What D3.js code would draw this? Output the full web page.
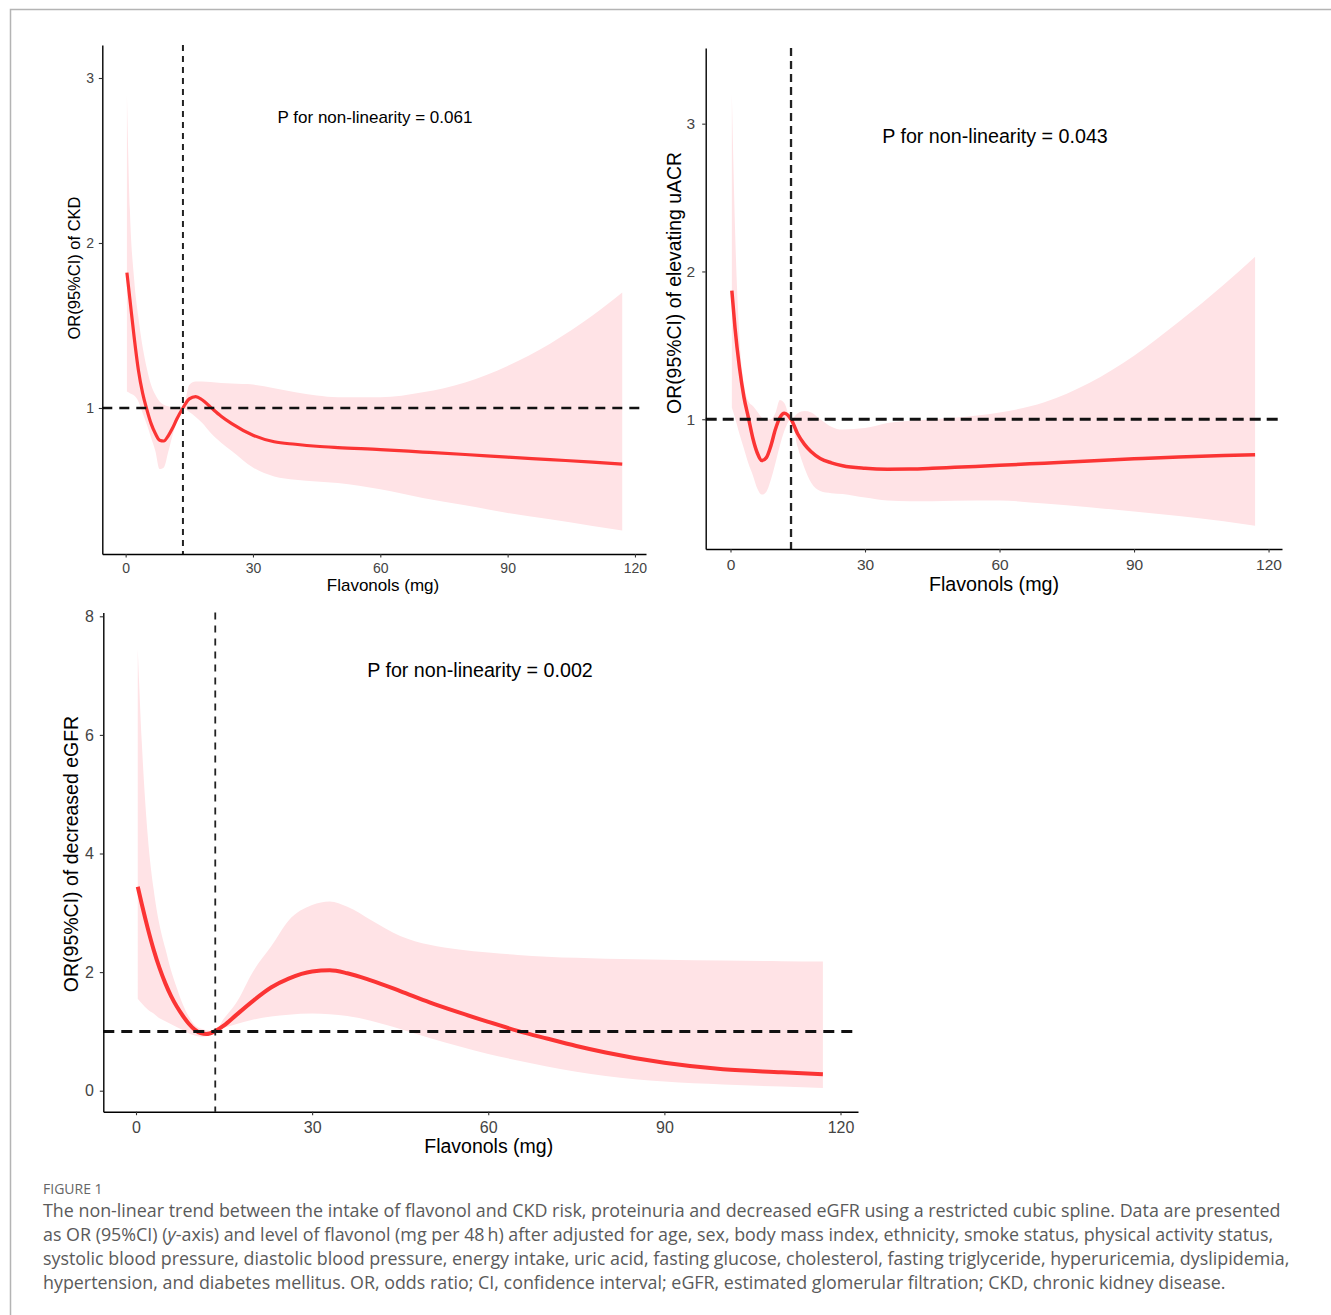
<!DOCTYPE html>
<html lang="en">
<head>
<meta charset="UTF-8" />
<title>Figure 1</title>
<script src="https://cdn.jsdelivr.net/npm/d3@7"></script>
<style>
  body { margin: 0; background: #fff; }
  svg { display: block; }
</style>
</head>
<body>
<script>
// values
var xTicks = [0, 30, 60, 90, 120];

// panel A: CKD
var ckdX  = [0.3, 1, 2, 3, 4, 5, 6, 7, 8, 9, 10, 11, 12, 13.5, 15, 16.5, 18, 20, 22.5, 25, 30, 35, 40, 45, 50, 60, 70, 80, 90, 100, 110, 117];
var ckdOR = [1.82, 1.66, 1.43, 1.23, 1.09, 0.99, 0.905, 0.845, 0.805, 0.80, 0.83, 0.875, 0.93, 1.0, 1.055, 1.069, 1.05, 1.005, 0.95, 0.905, 0.835, 0.795, 0.78, 0.768, 0.76, 0.748, 0.733, 0.718, 0.702, 0.687, 0.672, 0.66];
var ckdHi = [2.9, 2.2, 1.78, 1.55, 1.37, 1.24, 1.14, 1.08, 1.04, 1.02, 1.01, 1.005, 1.0, 1.0, 1.14, 1.16, 1.16, 1.157, 1.152, 1.148, 1.142, 1.12, 1.095, 1.075, 1.065, 1.065, 1.095, 1.155, 1.255, 1.39, 1.56, 1.70];
var ckdLo = [1.10, 1.09, 1.075, 1.04, 0.97, 0.90, 0.82, 0.74, 0.63, 0.64, 0.73, 0.83, 0.91, 1.0, 0.975, 0.945, 0.91, 0.85, 0.79, 0.74, 0.64, 0.585, 0.565, 0.555, 0.545, 0.507, 0.455, 0.41, 0.364, 0.325, 0.285, 0.258];
var ckdYTicks = [1, 2, 3];

// panel B: elevating uACR
var acrX  = [0.3, 1, 2, 3, 4, 5, 6, 7, 8, 9, 10, 11, 12, 13.5, 15, 16.5, 18, 20, 22.5, 25, 30, 35, 40, 45, 50, 60, 70, 80, 90, 100, 110, 117];
var acrOR = [1.87, 1.62, 1.35, 1.15, 1.01, 0.87, 0.77, 0.72, 0.74, 0.82, 0.93, 1.01, 1.04, 1.0, 0.90, 0.83, 0.78, 0.735, 0.705, 0.685, 0.668, 0.662, 0.663, 0.668, 0.675, 0.688, 0.703, 0.718, 0.732, 0.745, 0.755, 0.76];
var acrHi = [3.2, 2.3, 1.55, 1.24, 1.12, 1.09, 1.05, 1.01, 1.0, 1.0, 1.04, 1.13, 1.11, 1.0, 1.04, 1.055, 1.045, 1.0, 0.95, 0.93, 0.94, 0.975, 0.99, 1.0, 1.01, 1.045, 1.115, 1.245, 1.43, 1.66, 1.91, 2.10];
var acrLo = [1.08, 1.01, 0.9, 0.8, 0.7, 0.62, 0.53, 0.49, 0.51, 0.59, 0.70, 0.82, 0.92, 1.0, 0.81, 0.67, 0.57, 0.515, 0.50, 0.495, 0.47, 0.45, 0.445, 0.445, 0.448, 0.45, 0.43, 0.405, 0.376, 0.345, 0.31, 0.28];
var acrYTicks = [1, 2, 3];

// panel C: decreased eGFR
var egfrX  = [0.3, 1, 2, 3, 4, 5, 6, 7, 8, 9, 10, 11, 12, 13.4, 15, 17, 20, 23, 26, 30, 33, 36, 40, 45, 50, 55, 60, 65, 70, 75, 80, 90, 100, 110, 117];
var egfrOR = [3.44, 3.14, 2.74, 2.38, 2.07, 1.81, 1.59, 1.41, 1.26, 1.13, 1.03, 0.97, 0.955, 1.0, 1.10, 1.27, 1.52, 1.74, 1.89, 2.01, 2.03, 1.98, 1.86, 1.68, 1.49, 1.32, 1.16, 1.01, 0.88, 0.755, 0.645, 0.47, 0.36, 0.31, 0.276];
var egfrHi = [7.45, 5.85, 4.3, 3.4, 2.8, 2.4, 2.02, 1.72, 1.45, 1.25, 1.11, 1.05, 1.02, 1.0, 1.22, 1.47, 2.02, 2.43, 2.87, 3.13, 3.19, 3.10, 2.88, 2.61, 2.46, 2.38, 2.33, 2.29, 2.26, 2.24, 2.225, 2.21, 2.195, 2.185, 2.18];
var egfrLo = [1.55, 1.47, 1.37, 1.30, 1.22, 1.17, 1.12, 1.07, 1.02, 0.97, 0.93, 0.91, 0.92, 1.0, 1.06, 1.12, 1.20, 1.25, 1.28, 1.30, 1.29, 1.26, 1.18, 1.04, 0.89, 0.75, 0.62, 0.51, 0.41, 0.32, 0.25, 0.155, 0.105, 0.07, 0.045];
var egfrYTicks = [0, 2, 4, 6, 8];

var refFlavonol = 13.5;
var refOR = 1;

var captionHead = "FIGURE 1";
var captionLines = [
  "The non-linear trend between the intake of flavonol and CKD risk, proteinuria and decreased eGFR using a restricted cubic spline. Data are presented",
  "as OR (95%CI) (|y|-axis) and level of flavonol (mg per 48\u2009h) after adjusted for age, sex, body mass index, ethnicity, smoke status, physical activity status,",
  "systolic blood pressure, diastolic blood pressure, energy intake, uric acid, fasting glucose, cholesterol, fasting triglyceride, hyperuricemia, dyslipidemia,",
  "hypertension, and diabetes mellitus. OR, odds ratio; CI, confidence interval; eGFR, estimated glomerular filtration; CKD, chronic kidney disease."
];

var font = "'Liberation Sans', Arial, sans-serif";

var panels = [
  { xs: ckdX, or: ckdOR, lo: ckdLo, hi: ckdHi, yTicks: ckdYTicks,
    yTitle: "OR(95%CI) of CKD", note: "P for non-linearity = 0.061",
    l: 102.3, r: 646, t: 45, b: 554, xDom: [-5.5, 122.6], yDom: [0.115, 3.2],
    tickSize: 14, xPad: 5.2, yPad: 4.8, titleSize: 17, yTitleSize: 16.5, noteSize: 17,
    yTitlePos: [73.8, 268], xTitlePos: [383, 591], notePos: [375, 122.5],
    lw: 3.2, hDash: [2.6, "10,7"], vDash: [2, "6,5"] },
  { xs: acrX, or: acrOR, lo: acrLo, hi: acrHi, yTicks: acrYTicks,
    yTitle: "OR(95%CI) of elevating uACR", note: "P for non-linearity = 0.043",
    l: 705.7, r: 1282, t: 48, b: 549, xDom: [-5.53, 123.0], yDom: [0.122, 3.512],
    tickSize: 15.5, xPad: 6.8, yPad: 7, titleSize: 19.7, yTitleSize: 19.4, noteSize: 19.7,
    yTitlePos: [674.5, 283], xTitlePos: [994, 591], notePos: [995, 142.6],
    lw: 3.5, hDash: [3, "11,6"], vDash: [2.3, "8,5"] },
  { xs: egfrX, or: egfrOR, lo: egfrLo, hi: egfrHi, yTicks: egfrYTicks,
    yTitle: "OR(95%CI) of decreased eGFR", note: "P for non-linearity = 0.002",
    l: 103.3, r: 858, t: 612.5, b: 1111.7, xDom: [-5.57, 122.98], yDom: [-0.354, 8.064],
    tickSize: 16, xPad: 6.5, yPad: 5.8, titleSize: 19.5, yTitleSize: 19.5, noteSize: 19.7,
    yTitlePos: [70.6, 854], xTitlePos: [488.7, 1153], notePos: [480, 677],
    lw: 4, hDash: [3, "11,7"], vDash: [1.8, "7,6"] }
];

var svg = d3.select("body").append("svg")
  .attr("width", 1331)
  .attr("height", 1315);

svg.append("rect").attr("width", 1331).attr("height", 1315).attr("fill", "#fff");

// thin frame around the figure
svg.append("path")
  .attr("d", "M10.5,1315V9.5H1331")
  .attr("fill", "none")
  .attr("stroke", "#b4b4b4")
  .attr("stroke-width", 1.5);

panels.forEach(function (p) {
  var x = d3.scaleLinear().domain(p.xDom).range([p.l, p.r]);
  var y = d3.scaleLinear().domain(p.yDom).range([p.b, p.t]);
  var rows = p.xs.map(function (v, i) {
    return { x: v, or: p.or[i], lo: p.lo[i], hi: p.hi[i] };
  });
  var g = svg.append("g");

  g.append("path")
    .datum(rows)
    .attr("fill", "#ffe3e6")
    .attr("d", d3.area()
      .x(function (d) { return x(d.x); })
      .y0(function (d) { return y(d.lo); })
      .y1(function (d) { return y(d.hi); })
      .curve(d3.curveMonotoneX));

  g.append("path")
    .datum(rows)
    .attr("fill", "none")
    .attr("stroke", "#fb3434")
    .attr("stroke-width", p.lw)
    .attr("stroke-linecap", "butt")
    .attr("d", d3.line()
      .x(function (d) { return x(d.x); })
      .y(function (d) { return y(d.or); })
      .curve(d3.curveMonotoneX));

  // reference lines
  g.append("line")
    .attr("x1", p.l).attr("x2", p.r)
    .attr("y1", y(refOR)).attr("y2", y(refOR))
    .attr("stroke", "#111")
    .attr("stroke-width", p.hDash[0])
    .attr("stroke-dasharray", p.hDash[1]);

  g.append("line")
    .attr("x1", x(refFlavonol)).attr("x2", x(refFlavonol))
    .attr("y1", p.t).attr("y2", p.b)
    .attr("stroke", "#222")
    .attr("stroke-width", p.vDash[0])
    .attr("stroke-dasharray", p.vDash[1]);

  var xAxis = d3.axisBottom(x).tickValues(xTicks).tickFormat(d3.format("d"))
    .tickSize(3.5).tickSizeOuter(0).tickPadding(p.xPad);
  var yAxis = d3.axisLeft(y).tickValues(p.yTicks).tickFormat(d3.format("d"))
    .tickSize(3.5).tickSizeOuter(0).tickPadding(p.yPad);

  var gx = g.append("g").attr("transform", "translate(0," + p.b + ")").call(xAxis);
  var gy = g.append("g").attr("transform", "translate(" + p.l + ",0)").call(yAxis);

  [gx, gy].forEach(function (a) {
    a.attr("font-family", font).attr("font-size", p.tickSize);
    a.select(".domain").attr("stroke", "#000").attr("stroke-width", 1.4);
    a.selectAll(".tick line").attr("stroke", "#333").attr("stroke-width", 1.1);
    a.selectAll(".tick text").attr("fill", "#444");
  });

  g.append("text")
    .attr("x", p.xTitlePos[0]).attr("y", p.xTitlePos[1])
    .attr("text-anchor", "middle")
    .attr("font-family", font)
    .attr("font-size", p.titleSize)
    .text("Flavonols (mg)");

  g.append("text")
    .attr("transform", "translate(" + p.yTitlePos[0] + "," + p.yTitlePos[1] + ") rotate(-90)")
    .attr("dy", "0.36em")
    .attr("text-anchor", "middle")
    .attr("font-family", font)
    .attr("font-size", p.yTitleSize)
    .text(p.yTitle);

  g.append("text")
    .attr("x", p.notePos[0]).attr("y", p.notePos[1])
    .attr("text-anchor", "middle")
    .attr("font-family", font)
    .attr("font-size", p.noteSize)
    .text(p.note);
});

// caption
var capFont = "'Open Sans', 'Noto Sans', sans-serif";
svg.append("text")
  .attr("x", 43).attr("y", 1194)
  .attr("font-family", capFont)
  .attr("font-size", 14)
  .attr("fill", "#666")
  .text(captionHead);

var capG = svg.append("g")
  .attr("font-family", capFont)
  .attr("fill", "#5a5a5a")
  .attr("font-size", 17);

captionLines.forEach(function (line, i) {
  var t = capG.append("text").attr("x", 43).attr("y", 1216.5 + i * 24);
  line.split("|").forEach(function (part, j) {
    t.append("tspan").attr("font-style", j % 2 ? "italic" : null).text(part);
  });
});

// fit the caption width to the first line of the original
var w0 = capG.select("text").node().getComputedTextLength();
capG.attr("font-size", 17 * 1238 / w0);
</script>
</body>
</html>
